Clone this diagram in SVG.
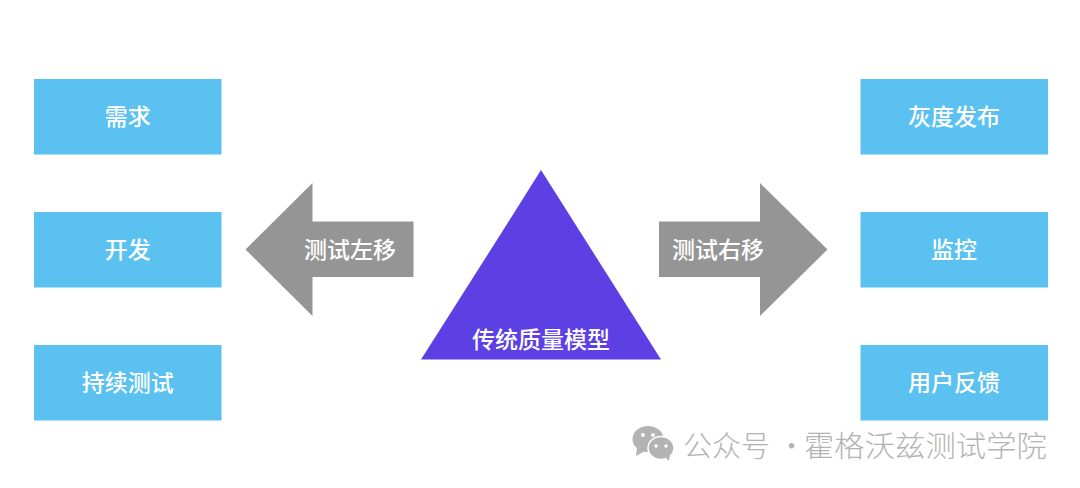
<svg xmlns="http://www.w3.org/2000/svg" width="1080" height="488" viewBox="0 0 1080 488">
<style>
.b{fill:#5ac1f1}
.a{fill:#959595}
text{font-family:"Noto Sans CJK SC","Noto Sans",sans-serif;text-anchor:middle;fill:#fff;font-size:23px;font-weight:500}
.w{fill:#b3b3b3;font-size:29px;font-weight:300;text-anchor:start}
</style>
<rect width="1080" height="488" fill="#fff"/>
<g id="n-req"><rect class="b" x="34" y="79" width="187.500" height="75.500"/><text x="127.700" y="124.500">需求</text></g>
<g id="n-dev"><rect class="b" x="34" y="212" width="187.500" height="75.500"/><text x="127.700" y="257.500">开发</text></g>
<g id="n-ct"><rect class="b" x="34" y="345" width="187.500" height="75.500"/><text x="127.700" y="390.500">持续测试</text></g>
<g id="n-gray"><rect class="b" x="860.500" y="79" width="187.500" height="75.500"/><text x="954" y="124.500">灰度发布</text></g>
<g id="n-mon"><rect class="b" x="860.500" y="212" width="187.500" height="75.500"/><text x="954" y="257.500">监控</text></g>
<g id="n-fb"><rect class="b" x="860.500" y="345" width="187.500" height="75.500"/><text x="954" y="390.500">用户反馈</text></g>
<g id="n-left"><polygon class="a" points="245.500,249.500 312.500,183 312.500,221.500 413.500,221.500 413.500,277 312.500,277 312.500,316"/><text x="350" y="257.500">测试左移</text></g>
<g id="n-right"><polygon class="a" points="827.500,249.500 760,183 760,221.500 659,221.500 659,277 760,277 760,316"/><text x="718" y="257.500">测试右移</text></g>
<g id="n-tri"><polygon fill="#5c40e4" points="502,232 541,170 661,359.500 421,359.500"/><text x="541" y="348">传统质量模型</text></g>
<g id="watermark">
<ellipse cx="648" cy="439" rx="15.500" ry="13" fill="#b3b3b3"/><polygon points="637,447 636,456 645,451" fill="#b3b3b3"/>
<ellipse cx="661" cy="448" rx="13" ry="11.500" fill="#b3b3b3" stroke="#fff" stroke-width="1.500"/><polygon points="665,457 669,461 670,455" fill="#b3b3b3"/>
<circle cx="643" cy="435" r="2" fill="#fff"/><circle cx="653" cy="435" r="2" fill="#fff"/><circle cx="656" cy="446" r="1.700" fill="#fff"/><circle cx="666" cy="446" r="1.700" fill="#fff"/>
<text class="w" x="683" y="456.500">公众号</text><text class="w" x="777" y="456.500">·</text><text class="w" x="804" y="456.500" textLength="243" lengthAdjust="spacingAndGlyphs">霍格沃兹测试学院</text>
</g>
</svg>
